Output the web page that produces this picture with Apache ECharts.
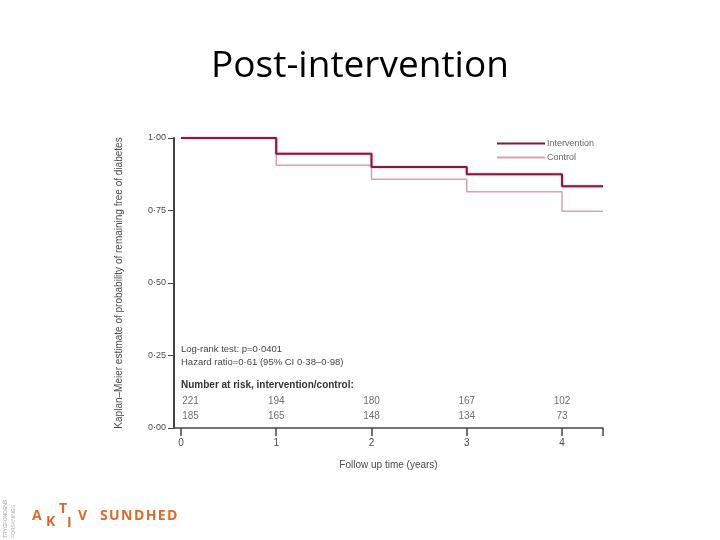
<!DOCTYPE html>
<html><head><meta charset="utf-8">
<script src="https://cdn.jsdelivr.net/npm/echarts@6/dist/echarts.min.js"></script>
<style>html,body{margin:0;padding:0;background:#fff}#c{width:720px;height:540px}</style>
</head><body><div id="c"></div>
<script>
var times = [0, 1, 2, 3, 4, 4.43];
var interventionSurv = [1.00, 0.946, 0.900, 0.875, 0.834, 0.834];
var controlSurv = [1.00, 0.906, 0.858, 0.815, 0.747, 0.747];
var riskTimes = [0, 1, 2, 3, 4];
var riskIntervention = [221, 194, 180, 167, 102];
var riskControl = [185, 165, 148, 134, 73];
var xTicks = [0, 1, 2, 3, 4];

function pairs(xs, ys) { return xs.map(function (x, i) { return [x, ys[i]]; }); }
function dot(v) { return v.toFixed(2).replace('.', '·'); }
var riskData = [];
riskTimes.forEach(function (t, i) {
  riskData.push({ value: [t + (i === 0 ? 0.1 : 0), 0.091], label: { formatter: String(riskIntervention[i]) } });
  riskData.push({ value: [t + (i === 0 ? 0.1 : 0), 0.041], label: { formatter: String(riskControl[i]) } });
});

var chart = echarts.init(document.getElementById('c'));
var txt = '#4a4a4a';
var orange = '#dc6a2c';
var logo = { fontSize: 14, fontWeight: 'bold', fill: orange, fontFamily: 'Open Sans' };
function lt(t, l, tp) { return { type: 'text', left: l, top: tp, style: Object.assign({ text: t }, logo) }; }
chart.setOption({
  animation: false,
  title: { text: 'Post-intervention', left: 'center', top: 43,
    textStyle: { fontFamily: 'Open Sans', fontSize: 37, fontWeight: 'normal', color: '#000' } },
  grid: { left: 174, right: 117, top: 138, bottom: 112 },
  legend: { left: 492, top: 134, orient: 'vertical', itemWidth: 48, itemHeight: 2, itemGap: 5, icon: 'rect',
    data: ['Intervention', 'Control'],
    textStyle: { fontSize: 9, color: '#666', fontFamily: 'Liberation Sans', padding: [0, 0, 0, -3] } },
  xAxis: { type: 'value', min: -0.073, max: 4.43,
    name: 'Follow up time (years)', nameLocation: 'middle', nameGap: 32,
    nameTextStyle: { fontSize: 10, color: txt, fontFamily: 'Liberation Sans' },
    axisLine: { onZero: false, lineStyle: { color: '#444', width: 1.5 } },
    axisTick: { customValues: xTicks.concat([4.43]), length: 8, inside: false, lineStyle: { color: '#444', width: 1.5 } },
    axisLabel: { customValues: xTicks, fontSize: 10, color: txt, margin: 10, fontFamily: 'Liberation Sans' },
    splitLine: { show: false } },
  yAxis: { type: 'value', min: 0, max: 1, interval: 0.25,
    name: 'Kaplan–Meier estimate of probability of remaining free of diabetes',
    nameLocation: 'middle', nameGap: 50, nameRotate: 90,
    nameTextStyle: { fontSize: 10, color: txt, fontFamily: 'Liberation Sans' },
    axisLine: { show: true, onZero: false, lineStyle: { color: '#444', width: 2 } },
    axisTick: { show: true, length: 6, lineStyle: { color: '#444' } },
    axisLabel: { formatter: dot, fontSize: 9, color: txt, margin: 8, fontFamily: 'Liberation Sans' },
    splitLine: { show: false } },
  series: [
    { name: 'Control', type: 'line', step: 'end', symbol: 'none', clip: false,
      data: pairs(times, controlSurv), z: 2,
      lineStyle: { color: '#d8a2a8', width: 1.5 }, itemStyle: { color: '#d8a2a8' } },
    { name: 'Intervention', type: 'line', step: 'end', symbol: 'none', clip: false,
      data: pairs(times, interventionSurv), z: 3,
      lineStyle: { color: '#7e1c42', width: 2, shadowColor: 'rgba(230,80,130,0.7)', shadowBlur: 2 },
      itemStyle: { color: '#7e1c42' } },
    { type: 'scatter', symbolSize: 0, silent: true, data: riskData,
      label: { show: true, position: 'inside', fontSize: 10, color: txt, fontFamily: 'Liberation Sans' } }
  ],
  graphic: [
    { type: 'text', left: 181, top: 344, style: { text: 'Log-rank test: p=0·0401', fontSize: 9.5, fill: '#444', fontFamily: 'Liberation Sans' } },
    { type: 'text', left: 181, top: 357, style: { text: 'Hazard ratio=0·61 (95% CI 0·38–0·98)', fontSize: 9.5, fill: '#444', fontFamily: 'Liberation Sans' } },
    { type: 'text', left: 181, top: 380, style: { text: 'Number at risk, intervention/control:', fontSize: 10, fontWeight: 'bold', fill: '#333', fontFamily: 'Liberation Sans' } },
    lt('A', 32, 509), lt('K', 46, 515), lt('T', 59, 502), lt('I', 67, 516), lt('V', 78, 509),
    { type: 'text', left: 100, top: 509, style: Object.assign({}, logo, { text: 'S\u200aU\u200aN\u200aD\u200aH\u200aE\u200aD' }) },
    { type: 'text', x: 3, y: 538, rotation: Math.PI / 2, style: { text: 'TRYGFONDENS', fontSize: 5, fill: '#999', fontFamily: 'Liberation Sans' } },
    { type: 'text', x: 11, y: 538, rotation: Math.PI / 2, style: { text: 'FORSKNINGS', fontSize: 5, fill: '#aaa', fontFamily: 'Liberation Sans' } }
  ]
});
</script></body></html>
